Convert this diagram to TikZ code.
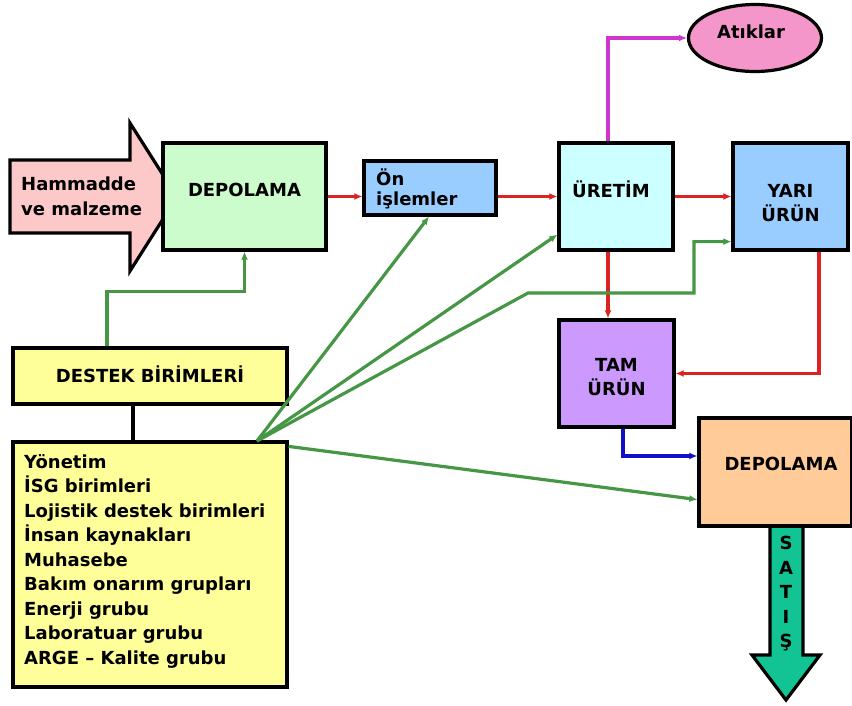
\documentclass[tikz,border=0pt]{standalone}
\usepackage{fontspec}
\setmainfont{DejaVu Sans}
\usetikzlibrary{arrows.meta,shapes.geometric}
\definecolor{pinkin}{HTML}{FCC8C8}
\definecolor{greenbox}{HTML}{CCFCCC}
\definecolor{bluebox}{HTML}{99CCFF}
\definecolor{cyanbox}{HTML}{CCFFFF}
\definecolor{purplebox}{HTML}{CC99FF}
\definecolor{peachbox}{HTML}{FFCC99}
\definecolor{yellowbox}{HTML}{FFFF99}
\definecolor{wastepink}{HTML}{F596CA}
\definecolor{salesteal}{HTML}{12C493}
\definecolor{flowred}{HTML}{DD2222}
\definecolor{supportgreen}{HTML}{459645}
\definecolor{wastemag}{HTML}{D035D0}
\definecolor{finalblue}{HTML}{1010C8}
\tikzset{
  box/.style={draw=black, line width=3.2pt, inner sep=0pt, align=center},
  label/.style={inner sep=0pt, align=center, font=\bfseries\fontsize{18}{24.5}\selectfont},
  tip/.style={-{Latex[length=8pt,width=7pt]}},
  redflow/.style={tip, draw=flowred, line width=3.2pt},
  greenflow/.style={tip, draw=supportgreen, line width=3.2pt},
  bigarrow/.style={draw=black, line width=3.2pt, line join=miter},
}
\begin{document}
\begin{tikzpicture}[x=1pt,y=-1pt]
\useasboundingbox (0,0) rectangle (852,706);

% raw material arrow entering storage
\draw[bigarrow, fill=pinkin] (10,160) -- (130,160) -- (130,123) -- (177,197)
  -- (130,271) -- (130,233) -- (10,233) -- cycle;
\node[label, anchor=west, align=left, font=\bfseries\fontsize{18}{25}\selectfont]
  (hammadde) at (21,196) {Hammadde\\ve malzeme};

% sales arrow leaving final storage
\draw[bigarrow, fill=salesteal] (770,520) -- (770,655) -- (752,655) -- (786,700)
  -- (820,655) -- (803,655) -- (803,520) -- cycle;
\node[label, font=\bfseries\fontsize{18}{24.5}\selectfont]
  (satis) at (786,594) {S\\A\\T\\I\\Ş};

% process boxes
\node[box, fill=greenbox, minimum width=163pt, minimum height=107pt] (dep1) at (244.5,196.5) {};
\node[label] (dep1t) at (244.5,190) {DEPOLAMA};
\node[box, fill=bluebox, minimum width=132pt, minimum height=54pt] (on) at (430,188) {};
\node[label, anchor=west, align=left, font=\bfseries\fontsize{18}{20}\selectfont]
  (ont) at (376,189) {Ön\\işlemler};
\node[box, fill=cyanbox, minimum width=114pt, minimum height=107pt] (ure) at (616,196.5) {};
\node[label] (uret) at (611,189) {ÜRETİM};
\node[box, fill=bluebox, minimum width=115pt, minimum height=107pt] (yari) at (790.5,196.5) {};
\node[label] (yarit) at (790.5,203) {YARI\\ÜRÜN};
\node[ellipse, draw=black, line width=3.2pt, fill=wastepink, minimum width=133pt,
  minimum height=67pt, inner sep=0pt] (atik) at (755,38) {};
\node[label] (atikt) at (751,32) {Atıklar};
\node[box, fill=purplebox, minimum width=115pt, minimum height=107pt] (tam) at (616.5,373.5) {};
\node[label] (tamt) at (616.5,377) {TAM\\ÜRÜN};
\node[box, fill=peachbox, minimum width=153pt, minimum height=108pt] (dep2) at (775.5,472) {};
\node[label] (dep2t) at (781,464) {DEPOLAMA};

% support units
\node[box, fill=yellowbox, minimum width=274pt, minimum height=56pt] (destek) at (150,376) {};
\node[label] (destekt) at (150,374) {DESTEK BİRİMLERİ};
\node[box, fill=yellowbox, minimum width=274pt, minimum height=245pt] (list) at (150,564.5) {};
\node[label, anchor=north west, align=left] (listt) at (24,454)
  {Yönetim\\İSG birimleri\\Lojistik destek birimleri\\İnsan kaynakları\\Muhasebe\\Bakım onarım grupları\\Enerji grubu\\Laboratuar grubu\\ARGE – Kalite grubu};

% main material flow
\draw[redflow] (dep1.east) -- (dep1.east -| on.west);
\draw[redflow] (ure.west -| on.east) -- (ure.west);
\draw[redflow] (ure.east) -- (yari.west);
\draw[redflow] ([xshift=-8pt]ure.south) -- ([xshift=-8pt]ure.south |- tam.north);
\draw[redflow] ([xshift=28.5pt]yari.south) |- (tam.east);
\draw[tip, draw=finalblue, line width=3.2pt] ([xshift=6.5pt]tam.south) |- ([yshift=16pt]dep2.west);
\draw[tip, draw=wastemag, line width=3.2pt] ([xshift=-8pt]ure.north) |- (atik.west);

% support links
\draw[black, line width=3.2pt] ([xshift=-17pt]destek.south) -- ([xshift=-17pt]destek.south |- list.north);
\draw[greenflow] ([xshift=-43pt]destek.north) -- ++(0,-55) -| (dep1.south);
\coordinate (fan) at (257,441);
\coordinate (bendA) at (528,293);
\coordinate (bendB) at (694,293);
\draw[greenflow] (fan) -- ([xshift=-1pt]on.south);
\draw[greenflow] (fan) -- ([yshift=17pt]ure.south west);
\draw[greenflow] (fan) -- (bendA) -- (bendB) |- ([yshift=10pt]yari.south west);
\draw[greenflow] ([yshift=-6pt]list.north east) -- ([yshift=28pt]dep2.south west);
\end{tikzpicture}
\end{document}
